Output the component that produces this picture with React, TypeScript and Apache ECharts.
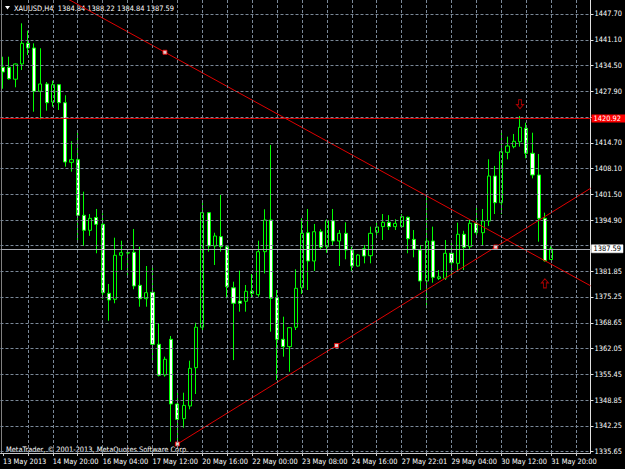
import React, { useEffect, useRef } from "react";
import * as echarts from "echarts";

// ---- data (H4 bars, index 0 = 13 May 2013) ----
const opens = [
  1434.05, 1434.05, 1431.0, 1434.9, 1440.19, 1438.99, 1427.91, 1429.78, 1425.17, 1429.6,
  1424.99, 1409.73, 1410.4, 1396.16, 1392.32, 1395.6, 1393.86, 1376.2, 1374.66, 1385.92,
  1386.59, 1386.7, 1378.24, 1374.81, 1376.45, 1363.14, 1355.28, 1364.42, 1347.85, 1344.1,
  1347.34, 1357.15, 1367.5, 1396.83, 1388.3, 1390.7, 1388.12, 1377.6, 1374.2, 1374.15,
  1376.71, 1375.84, 1386.85, 1394.96, 1375.07, 1364.42, 1362.53, 1367.5, 1377.63, 1391.7,
  1384.46, 1391.96, 1388.12, 1394.78, 1389.58, 1391.55, 1387.28, 1383.18, 1387.6, 1385.82,
  1391.8, 1393.26, 1394.37, 1393.26, 1393.26, 1395.65, 1390.0, 1387.28, 1379.34, 1389.58,
  1380.0, 1380.03, 1386.44, 1383.87, 1391.3, 1388.12, 1394.11, 1391.71, 1394.7, 1406.22,
  1399.39, 1412.29, 1413.73, 1415.0, 1418.43, 1412.04, 1406.48, 1395.39, 1384.84,
];
const highs = [
  1436.76, 1436.76, 1435.0, 1445.31, 1443.42, 1440.19, 1438.92, 1430.29, 1430.62, 1429.7,
  1426.88, 1415.11, 1417.49, 1402.21, 1396.49, 1397.78, 1396.68, 1378.58, 1390.43, 1389.66,
  1386.8, 1392.66, 1388.12, 1383.18, 1382.85, 1368.52, 1359.97, 1365.27, 1351.18, 1350.75,
  1358.94, 1368.67, 1399.39, 1397.0, 1391.7, 1401.36, 1388.3, 1379.17, 1381.98, 1378.32,
  1381.14, 1389.66, 1397.7, 1414.16, 1377.04, 1370.21, 1367.5, 1382.34, 1395.39, 1397.78,
  1393.94, 1392.58, 1395.1, 1397.78, 1392.4, 1394.37, 1388.12, 1386.25, 1388.56, 1393.26,
  1394.96, 1396.49, 1396.2, 1395.14, 1396.49, 1395.81, 1392.4, 1388.56, 1401.54, 1393.26,
  1382.16, 1389.84, 1389.84, 1394.28, 1392.2, 1394.96, 1398.2, 1397.78, 1410.5, 1408.8,
  1417.99, 1416.29, 1416.98, 1421.58, 1419.87, 1417.31, 1411.86, 1396.83, 1388.22,
];
const lows = [
  1428.57, 1430.9, 1428.93, 1433.36, 1437.2, 1422.68, 1420.74, 1422.94, 1423.97, 1423.12,
  1408.61, 1407.33, 1389.84, 1388.3, 1390.9, 1386.44, 1374.81, 1369.18, 1373.64, 1382.16,
  1380.7, 1377.22, 1372.76, 1372.76, 1358.86, 1354.9, 1354.85, 1338.19, 1337.62, 1341.8,
  1346.49, 1350.41, 1366.8, 1386.85, 1383.44, 1386.85, 1374.91, 1359.1, 1371.49, 1371.49,
  1375.17, 1375.3, 1381.3, 1366.36, 1354.0, 1359.97, 1356.12, 1366.8, 1376.02, 1377.04,
  1381.9, 1387.46, 1386.59, 1388.56, 1383.18, 1384.9, 1381.98, 1383.0, 1383.87, 1383.87,
  1390.28, 1389.84, 1392.4, 1392.4, 1393.09, 1386.44, 1385.4, 1377.04, 1372.36, 1378.9,
  1379.6, 1379.6, 1380.88, 1381.73, 1382.16, 1387.46, 1390.69, 1388.38, 1393.43, 1396.49,
  1396.49, 1410.5, 1413.31, 1413.73, 1410.76, 1405.63, 1389.41, 1384.3, 1384.84,
];
const closes = [
  1432.85, 1431.13, 1434.9, 1440.19, 1438.99, 1427.91, 1429.78, 1424.99, 1429.6, 1424.99,
  1409.81, 1410.4, 1396.16, 1392.32, 1395.39, 1393.86, 1376.35, 1374.48, 1385.92, 1386.59,
  1386.5, 1378.07, 1374.81, 1376.35, 1363.14, 1355.21, 1359.3, 1347.85, 1343.93, 1347.5,
  1356.99, 1367.5, 1396.83, 1388.3, 1390.86, 1388.12, 1377.88, 1373.64, 1373.64, 1376.71,
  1376.2, 1386.85, 1394.96, 1374.91, 1364.42, 1362.53, 1367.39, 1377.47, 1391.55, 1384.46,
  1391.96, 1387.97, 1394.78, 1389.58, 1391.55, 1387.28, 1383.18, 1385.99, 1385.74, 1391.55,
  1393.17, 1394.37, 1393.26, 1394.1, 1395.81, 1390.17, 1387.46, 1379.34, 1389.58, 1380.29,
  1380.4, 1386.44, 1384.03, 1391.3, 1387.97, 1394.11, 1391.71, 1394.7, 1406.22, 1399.39,
  1412.45, 1413.9, 1415.11, 1418.69, 1412.04, 1406.48, 1395.39, 1384.54, 1387.59,
];

const timeLabelIdx = [0, 8, 16, 24, 32, 40, 48, 56, 64, 72, 80, 88];
const timeLabels = [
  "13 May 2013", "14 May 20:00", "16 May 04:00", "17 May 12:00", "20 May 16:00", "22 May 00:00",
  "23 May 08:00", "24 May 16:00", "27 May 22:01", "29 May 04:00", "30 May 12:00", "31 May 20:00",
];
const timeTickIdx = [0, 4, 8, 12, 16, 20, 24, 28, 32, 36, 40, 44, 48, 52, 56, 60, 64, 68, 72, 76, 80, 84, 88, 92];
const priceTicks = [
  1335.65, 1342.25, 1348.85, 1355.45, 1362.05, 1368.65, 1375.25, 1381.85, 1388.45,
  1394.9, 1401.5, 1408.1, 1414.7, 1421.3, 1427.9, 1434.5, 1441.1, 1447.7,
];
// grid levels whose labels are covered by the price-line boxes
const coveredTicks = [1388.45, 1421.3];

const symbolName = "XAUUSD,H4";
const lastBar = { open: 1384.84, high: 1388.22, low: 1384.84, close: 1387.59 };
const hLinePrice = 1420.92;
const bidPrice = 1387.59;
const ascAnchors = [[28, 1337.62], [79.1, 1388.05]];
const descAnchors = [[26, 1437.9], [60, 1408.15]];
const sellArrow = [83, 1424.6];
const buyArrow = [87, 1378.75];

const X_MIN = -0.4;
const X_MAX = 94.32;
const Y_MIN = 1335.31;
const Y_MAX = 1451.28;

const FONT = "Tahoma, 'DejaVu Sans Condensed', 'Liberation Sans', sans-serif";
const FS = 7.4;
const GRID_COLOR = "#7a8898";

function ray(a: number[], b: number[], x0: number, x1: number) {
  const s = (b[1] - a[1]) / (b[0] - a[0]);
  return [
    [x0, a[1] + s * (x0 - a[0])],
    [x1, a[1] + s * (x1 - a[0])],
  ];
}

export default function App() {
  const ref = useRef<HTMLDivElement>(null);
  useEffect(() => {
    if (!ref.current) return;
    const chart = echarts.init(ref.current, null, { renderer: "svg" });
    const candles = opens.map((o, i) => [i, o, closes[i], lows[i], highs[i]]);
    const mid = [
      (ascAnchors[0][0] + ascAnchors[1][0]) / 2,
      (ascAnchors[0][1] + ascAnchors[1][1]) / 2,
    ];
    const labelTicks = priceTicks.filter((p) => !coveredTicks.includes(p));
    const option: any = {
      animation: false,
      backgroundColor: "#000000",
      grid: { left: 0, right: 33, top: 0, bottom: 16, containLabel: false },
      xAxis: {
        type: "value",
        min: X_MIN,
        max: X_MAX,
        axisLine: { show: true, onZero: false, lineStyle: { color: "#c8c8c8", width: 1 } },
        axisTick: { show: true, length: 3, customValues: timeTickIdx, lineStyle: { color: "#c8c8c8" } },
        axisLabel: {
          customValues: timeLabelIdx,
          color: "#ffffff",
          fontSize: FS,
          fontFamily: FONT,
          align: "left",
          margin: 5,
          formatter: (v: number) => {
            const i = timeLabelIdx.indexOf(Math.round(v));
            return i >= 0 ? timeLabels[i] : "";
          },
        },
        splitLine: { show: false },
      },
      yAxis: {
        type: "value",
        position: "right",
        min: Y_MIN,
        max: Y_MAX,
        axisLine: { show: true, onZero: false, lineStyle: { color: "#e0e0e0", width: 1 } },
        axisTick: { show: true, length: 3, customValues: priceTicks, lineStyle: { color: "#e0e0e0" } },
        axisLabel: {
          customValues: labelTicks,
          color: "#ffffff",
          fontSize: FS,
          fontFamily: FONT,
          margin: 4,
          formatter: (v: number) => v.toFixed(2),
        },
        splitLine: { show: false },
      },
      series: [
        {
          type: "line",
          data: [],
          z: 1,
          silent: true,
          markLine: {
            silent: true,
            symbol: ["none", "none"],
            label: { show: false },
            lineStyle: { color: GRID_COLOR, type: [3, 2], width: 1 },
            data: [
              ...timeTickIdx.filter((k) => k > 0).map((k) => ({ xAxis: k })),
              ...priceTicks.map((p) => ({ yAxis: p })),
            ],
          },
        },
        {
          type: "candlestick",
          z: 2,
          barWidth: 3.6,
          data: candles,
          itemStyle: {
            color: "#000000",
            color0: "#ffffff",
            borderColor: "#00ff00",
            borderColor0: "#00ff00",
            borderColorDoji: "#00ff00",
            borderWidth: 1,
          },
        },
        {
          type: "line",
          data: [],
          z: 3,
          silent: true,
          markLine: {
            silent: true,
            symbol: ["none", "none"],
            data: [
              {
                yAxis: bidPrice,
                lineStyle: { color: "#a8acb4", type: "solid", width: 1 },
                label: {
                  show: true,
                  position: "end",
                  distance: 1,
                  formatter: bidPrice.toFixed(2),
                  color: "#000000",
                  backgroundColor: "#ffffff",
                  borderColor: "#808080",
                  borderWidth: 0.5,
                  padding: [1, 2, 0, 2],
                  fontSize: FS,
                  fontFamily: FONT,
                },
              },
              {
                yAxis: hLinePrice,
                lineStyle: { color: "#e80000", type: "solid", width: 0.9 },
                label: {
                  show: true,
                  position: "end",
                  distance: 1,
                  formatter: hLinePrice.toFixed(2),
                  color: "#ffffff",
                  backgroundColor: "#ff0000",
                  padding: [1, 4, 0, 2],
                  fontSize: FS,
                  fontFamily: FONT,
                },
              },
            ],
          },
        },
        {
          type: "line",
          z: 3,
          silent: true,
          showSymbol: false,
          data: ray(ascAnchors[0], ascAnchors[1], ascAnchors[0][0], X_MAX),
          lineStyle: { color: "#e00000", width: 1 },
        },
        {
          type: "line",
          z: 3,
          silent: true,
          showSymbol: false,
          data: ray(descAnchors[0], descAnchors[1], 8, X_MAX),
          lineStyle: { color: "#e00000", width: 1 },
        },
        {
          type: "scatter",
          z: 4,
          silent: true,
          symbol: "rect",
          symbolSize: 4,
          data: [ascAnchors[0], mid, ascAnchors[1], descAnchors[0]],
          itemStyle: { color: "#ffffff", borderColor: "#ff0000", borderWidth: 1 },
        },
        {
          type: "scatter",
          z: 4,
          silent: true,
          symbol: "path://M3 0L7 0L7 6L10 6L5 11L0 6L3 6Z",
          symbolSize: [7, 9],
          data: [sellArrow],
          itemStyle: { color: "#000000", borderColor: "#d00000", borderWidth: 1 },
        },
        {
          type: "scatter",
          z: 4,
          silent: true,
          symbol: "path://M5 0L10 5L7 5L7 11L3 11L3 5L0 5Z",
          symbolSize: [7, 9],
          data: [buyArrow],
          itemStyle: { color: "#000000", borderColor: "#d00000", borderWidth: 1 },
        },
      ],
      graphic: [
        {
          type: "line",
          shape: { x1: 1.5, y1: 0, x2: 1.5, y2: 453 },
          style: { stroke: "#808080", lineWidth: 1 },
          silent: true,
        },
        {
          type: "polygon",
          shape: { points: [[5, 6], [10, 6], [7.5, 9.5]] },
          style: { fill: "#ffffff" },
          silent: true,
        },
        {
          type: "text",
          x: 14,
          y: 8,
          silent: true,
          style: {
            text: `${symbolName}  ${lastBar.open.toFixed(2)} ${lastBar.high.toFixed(2)} ${lastBar.low.toFixed(2)} ${lastBar.close.toFixed(2)}`,
            fill: "#ffffff",
            fontSize: FS,
            fontFamily: FONT,
            verticalAlign: "middle",
            align: "left",
          },
        },
        {
          type: "text",
          x: 6,
          y: 449,
          silent: true,
          style: {
            text: "MetaTrader, © 2001-2013, MetaQuotes Software Corp.",
            fill: "#ffffff",
            fontSize: FS,
            fontFamily: FONT,
            verticalAlign: "middle",
            align: "left",
          },
        },
      ],
    };
    chart.setOption(option);
    return () => chart.dispose();
  }, []);
  return (
    <div
      ref={ref}
      style={{ position: "fixed", left: 0, top: 0, width: 625, height: 469, background: "#000" }}
    />
  );
}
